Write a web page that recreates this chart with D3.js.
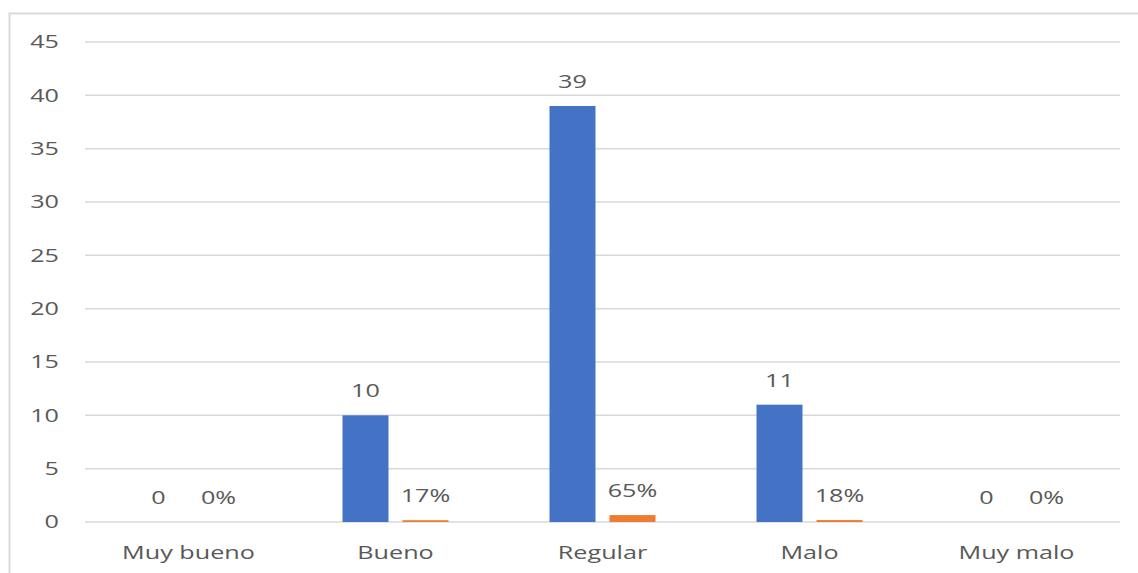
<!DOCTYPE html>
<html>
<head>
<meta charset="utf-8">
<script src="https://cdn.jsdelivr.net/npm/d3@7"></script>
<style>
  html, body { margin: 0; padding: 0; background: #fff; }
  svg { display: block; }
  text { font-family: "Open Sans", sans-serif; fill: #595959; }
</style>
</head>
<body>
<svg id="chart" width="1138" height="573"></svg>
<script>
// Survey answers: count of respondents and share of total per rating
const categories = ["Muy bueno", "Bueno", "Regular", "Malo", "Muy malo"];
const counts = [0, 10, 39, 11, 0];
const shares = [0, 0.17, 0.65, 0.18, 0];
const shareLabels = ["0%", "17%", "65%", "18%", "0%"];
const yTicks = [0, 5, 10, 15, 20, 25, 30, 35, 40, 45];

const series = [
  { key: "count", values: counts, labels: counts.map(String), color: "#4472C4" },
  { key: "share", values: shares, labels: shareLabels, color: "#ED7D31" }
];

const svg = d3.select("#chart");
const plotLeft = 85, plotRight = 1120, plotTop = 42, plotBottom = 522;
const sx = 1.4; // wide glyph proportions
const fontSize = 18;

// Chart frame
svg.append("rect")
  .attr("x", 9.5).attr("y", 13.5)
  .attr("width", 1200).attr("height", 700)
  .attr("fill", "none")
  .attr("stroke", "#d9d9d9")
  .attr("stroke-width", 2);

const y = d3.scaleLinear().domain([0, 45]).range([plotBottom, plotTop]);
const x0 = d3.scaleBand().domain(categories).range([plotLeft, plotRight]).padding(0);
const bw = x0.bandwidth();
const x1 = d3.scaleBand().domain(series.map(s => s.key))
  .range([bw / 2 - 60, bw / 2 + 60])
  .paddingInner(0.2333).paddingOuter(0.1167);

// Horizontal gridlines
svg.append("g").selectAll("line").data(yTicks).join("line")
  .attr("x1", plotLeft).attr("x2", plotRight)
  .attr("y1", d => y(d)).attr("y2", d => y(d))
  .attr("stroke", "#d9d9d9")
  .attr("stroke-width", 1.5);

// Y axis labels
const yAxis = svg.append("g")
  .attr("transform", `translate(${plotLeft},0)`)
  .call(d3.axisLeft(y).tickValues(yTicks).tickSize(0).tickPadding(18.6));
yAxis.select(".domain").remove();
yAxis.selectAll("text")
  .attr("font-size", fontSize)
  .attr("font-family", "Open Sans, sans-serif")
  .attr("fill", "#595959")
  .attr("transform", `scale(${sx},1)`);

// Bars
const groups = svg.append("g").selectAll("g").data(categories).join("g")
  .attr("transform", d => `translate(${x0(d)},0)`);

series.forEach(s => {
  groups.append("rect")
    .attr("x", x1(s.key))
    .attr("width", x1.bandwidth())
    .attr("y", (d, i) => y(s.values[i]))
    .attr("height", (d, i) => y(0) - y(s.values[i]))
    .attr("fill", s.color);

  groups.append("text")
    .attr("text-anchor", "middle")
    .attr("font-size", fontSize)
    .attr("transform", (d, i) =>
      `translate(${x1(s.key) + x1.bandwidth() / 2},${y(s.values[i]) - 18}) scale(${sx},1)`)
    .text((d, i) => s.labels[i]);
});

// Category labels
svg.append("g").selectAll("text").data(categories).join("text")
  .attr("text-anchor", "middle")
  .attr("font-size", fontSize)
  .attr("transform", d => `translate(${x0(d) + bw / 2},559) scale(${sx},1)`)
  .text(d => d);
</script>
</body>
</html>
